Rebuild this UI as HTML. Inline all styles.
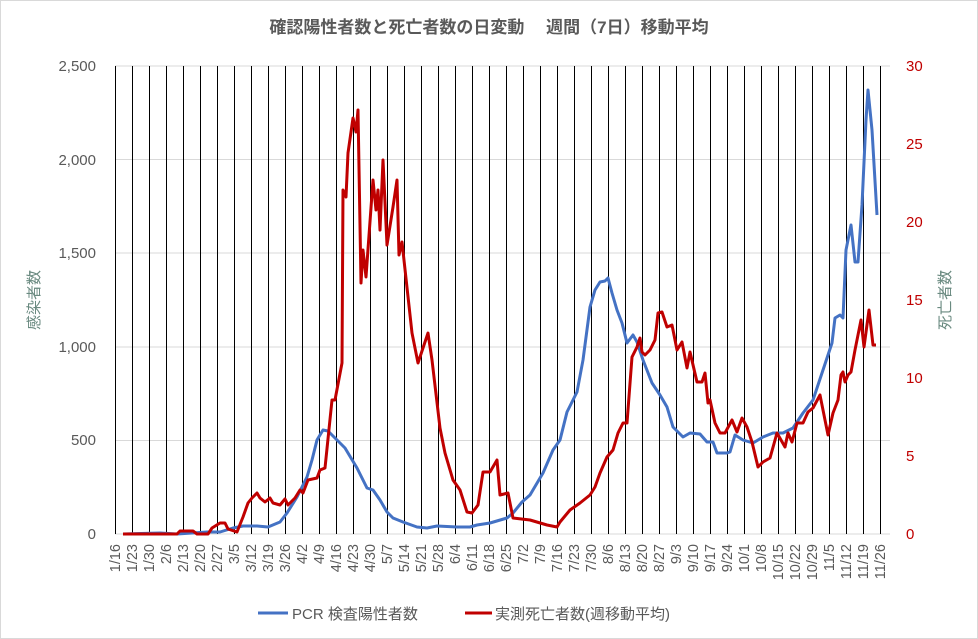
<!DOCTYPE html>
<html><head><meta charset="utf-8"><style>
body{margin:0;background:#fff}
svg{display:block;font-family:"Liberation Sans","Noto Sans CJK JP",sans-serif}
</style></head><body>
<svg width="978" height="639" viewBox="0 0 978 639">
<rect x="0.5" y="0.5" width="977" height="638" fill="#fff" stroke="#d9d9d9"/>
<text x="489" y="33" text-anchor="middle" font-size="17" font-weight="bold" fill="#595959">確認陽性者数と死亡者数の日変動　 週間（7日）移動平均</text>
<g stroke="#d9d9d9" stroke-width="1" shape-rendering="crispEdges">
<line x1="115" y1="66" x2="890" y2="66"/><line x1="115" y1="159.6" x2="890" y2="159.6"/><line x1="115" y1="253.2" x2="890" y2="253.2"/><line x1="115" y1="346.8" x2="890" y2="346.8"/><line x1="115" y1="440.4" x2="890" y2="440.4"/><line x1="115" y1="534" x2="890" y2="534"/>
</g>
<g id="v" stroke="#000" stroke-width="1" shape-rendering="crispEdges"></g>
<g font-size="15" fill="#595959" text-anchor="end">
<text x="96" y="71">2,500</text><text x="96" y="165">2,000</text><text x="96" y="258">1,500</text><text x="96" y="352">1,000</text><text x="96" y="445">500</text><text x="96" y="539">0</text>
</g>
<g font-size="15" fill="#c00000" text-anchor="start">
<text x="906" y="71">30</text><text x="906" y="149">25</text><text x="906" y="227">20</text><text x="906" y="305">15</text><text x="906" y="383">10</text><text x="906" y="461">5</text><text x="906" y="539">0</text>
</g>
<text transform="translate(39,300) rotate(-90)" text-anchor="middle" font-size="15" fill="#6a8a80">感染者数</text>
<text transform="translate(950,300) rotate(-90)" text-anchor="middle" font-size="15" fill="#6a8a80">死亡者数</text>
<g id="xl" font-size="14.5" fill="#595959" text-anchor="end"></g>
<polyline fill="none" stroke="#4472c4" stroke-width="3" stroke-linejoin="round" points="123,534 160,533 177,534 207,532 220,532 233,528 243,526 257,526 268,527 280,522 287,513 297,497 307,477 312,460 317,440 323,430 328,431 337,440 345,448 357,468 367,488 373,490 380,500 387,512 393,518 403,522 417,527 427,528 437,526 457,527 470,527 477,525 490,523 507,518 513,513 522,502 530,495 543,473 553,450 560,440 567,412 577,392 583,360 590,307 595,290 600,282 605,281 608,278 612,293 617,310 622,323 627,343 633,335 637,342 643,360 652,383 660,395 667,407 673,427 683,437 690,433 700,434 707,442 713,442 717,453 727,453 730,452 735,435 743,440 753,443 763,437 773,433 783,433 793,428 803,413 813,400 823,370 832,343 835,318 840,315 843,318 846,250 851,225 855,262 858,262 862,205 866,120 868,90 872,130 877,215"/>
<polyline fill="none" stroke="#c00000" stroke-width="3" stroke-linejoin="round" points="123,534 177,534 180,531 193,531 197,534 208,534 212,528 220,523 225,523 228,529 237,532 243,517 248,503 252,498 257,493 260,498 265,502 270,498 273,503 280,505 285,499 288,505 295,498 300,490 303,493 308,480 317,478 320,470 325,468 332,400 335,400 342,363 343,190 346,197 348,153 353,118 356,132 358,110 361,283 363,250 366,277 373,180 376,210 378,190 380,230 383,160 387,245 393,207 397,180 399,255 402,242 412,333 418,363 428,333 432,360 440,428 445,453 453,480 460,490 467,512 472,513 478,505 483,472 490,472 497,460 500,495 508,493 513,518 530,520 547,525 557,527 560,522 570,510 580,503 590,495 595,487 600,473 607,457 613,450 618,433 623,423 627,423 632,357 637,347 640,338 642,352 645,355 650,350 655,340 658,313 662,312 667,327 672,325 677,350 682,342 687,368 690,352 697,382 702,382 705,373 708,403 710,400 715,423 720,433 725,433 732,420 737,432 742,418 747,427 752,442 758,467 763,462 770,458 777,433 785,447 788,433 792,442 797,423 803,423 808,412 813,408 820,395 828,435 833,413 838,400 841,375 843,372 845,382 848,375 851,372 855,350 861,320 864,347 869,310 873,345 876,345"/>
<line x1="258" y1="613" x2="288" y2="613" stroke="#4472c4" stroke-width="3"/>
<text x="292" y="619" font-size="15" fill="#595959">PCR 検査陽性者数</text>
<line x1="465" y1="613" x2="492" y2="613" stroke="#c00000" stroke-width="3"/>
<text x="495" y="619" font-size="15" fill="#595959">実測死亡者数(週移動平均)</text>
</svg>
<script>
var labels=["1/16","1/23","1/30","2/6","2/13","2/20","2/27","3/5","3/12","3/19","3/26","4/2","4/9","4/16","4/23","4/30","5/7","5/14","5/21","5/28","6/4","6/11","6/18","6/25","7/2","7/9","7/16","7/23","7/30","8/6","8/13","8/20","8/27","9/3","9/10","9/17","9/24","10/1","10/8","10/15","10/22","10/29","11/5","11/12","11/19","11/26"];
var v=document.getElementById('v'),xl=document.getElementById('xl'),ns="http://www.w3.org/2000/svg";
labels.forEach(function(l,i){var x=115+i*17;
var ln=document.createElementNS(ns,'line');ln.setAttribute('x1',x+0.5);ln.setAttribute('x2',x+0.5);ln.setAttribute('y1',66);ln.setAttribute('y2',534);v.appendChild(ln);
var t=document.createElementNS(ns,'text');t.setAttribute('transform','translate('+(x+5)+',544) rotate(-90)');t.textContent=l;xl.appendChild(t);});
</script>
</body></html>
